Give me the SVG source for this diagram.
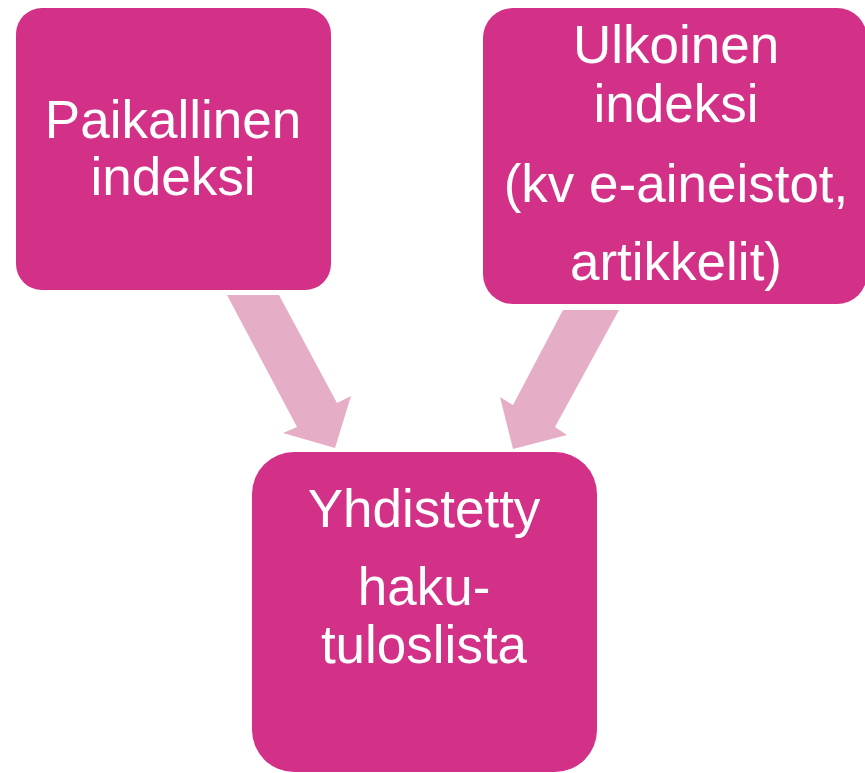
<svg xmlns="http://www.w3.org/2000/svg" width="865" height="773" viewBox="0 0 865 773">
<style>
.box{fill:#D33088}
.arrow{fill:#E6AEC6}
.t{font-family:"Liberation Sans",Arial,sans-serif;font-size:53px;fill:#fff;text-anchor:middle}
</style>
<rect width="865" height="773" fill="#fff"/>
<g id="connectors">
<polygon class="arrow" points="227,295 279,295 337,403 351,396 335,448 283,433 297,427"/>
<polygon class="arrow" points="563,310 619,310 555,427 567,435 513,449 500,397 513,405"/>
</g>
<g id="paikallinen">
<rect class="box" x="16" y="8" width="315" height="282" rx="26"/>
<text class="t" x="173" y="138">Paikallinen</text>
<text class="t" x="173" y="195">indeksi</text>
</g>
<g id="ulkoinen">
<rect class="box" x="483" y="8" width="384" height="296" rx="30"/>
<text class="t" x="676" y="63">Ulkoinen</text>
<text class="t" x="676" y="122">indeksi</text>
<text class="t" x="676" y="202">(kv e-aineistot,</text>
<text class="t" x="676" y="280">artikkelit)</text>
</g>
<g id="yhdistetty">
<rect class="box" x="252" y="452" width="345" height="320" rx="42"/>
<text class="t" x="424" y="527">Yhdistetty</text>
<text class="t" x="424" y="605">haku-</text>
<text class="t" x="424" y="663">tuloslista</text>
</g>
</svg>
